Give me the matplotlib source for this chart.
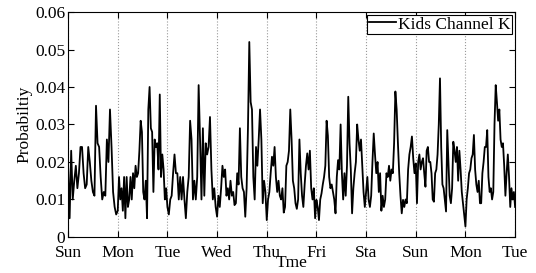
import numpy as np
import matplotlib
matplotlib.use('Agg')
import matplotlib.pyplot as plt

plt.rcParams['font.family'] = ['Liberation Serif', 'DejaVu Serif']

# day labels on the x axis (one per day boundary)
DAY_LABELS = ['Sun', 'Mon', 'Tue', 'Wed', 'Thu', 'Fri', 'Sta', 'Sun', 'Mon', 'Tue']

# probability values, one list per day
sun1 = [0.019, 0.005, 0.023, 0.010, 0.015, 0.019, 0.013, 0.017, 0.024, 0.024, 0.017, 0.013, 0.014, 0.024,
        0.020, 0.015, 0.012, 0.011, 0.035, 0.025, 0.024, 0.016, 0.010, 0.012, 0.011, 0.026, 0.020, 0.034,
        0.024, 0.012, 0.008, 0.006]
mon1 = [0.007, 0.016, 0.010, 0.013, 0.007, 0.016, 0.005, 0.016, 0.008, 0.010, 0.016, 0.010, 0.017, 0.013,
        0.019, 0.016, 0.017, 0.023, 0.031, 0.028, 0.012, 0.010, 0.015, 0.005, 0.034, 0.040, 0.029, 0.028,
        0.012, 0.026, 0.024, 0.025, 0.018, 0.038, 0.016, 0.022, 0.018, 0.010, 0.013]
tue1 = [0.008, 0.006, 0.010, 0.011, 0.017, 0.022, 0.017, 0.017, 0.010, 0.016, 0.010, 0.016, 0.010, 0.005,
        0.012, 0.016, 0.031, 0.026, 0.010, 0.015, 0.010, 0.016, 0.0405, 0.026, 0.010, 0.029, 0.011, 0.025,
        0.022, 0.024, 0.032, 0.018, 0.010, 0.013, 0.008]
wed1 = [0.0054, 0.011, 0.008, 0.013, 0.019, 0.016, 0.018, 0.011, 0.013, 0.010, 0.015, 0.011, 0.012, 0.0085,
        0.009, 0.017, 0.014, 0.029, 0.016, 0.013, 0.012, 0.0054, 0.013, 0.029, 0.052, 0.036, 0.034, 0.016,
        0.010, 0.024, 0.019, 0.026, 0.034, 0.026, 0.009, 0.015, 0.012]
thu1 = [0.0045, 0.010, 0.012, 0.017, 0.0214, 0.019, 0.024, 0.016, 0.012, 0.015, 0.011, 0.010, 0.013, 0.0065,
        0.008, 0.019, 0.020, 0.023, 0.034, 0.026, 0.015, 0.013, 0.009, 0.0075, 0.010, 0.026, 0.017, 0.011,
        0.008, 0.014, 0.019, 0.0223, 0.018, 0.023, 0.013, 0.010, 0.013, 0.005]
fri1 = [0.0099, 0.008, 0.0045, 0.010, 0.0116, 0.014, 0.016, 0.019, 0.031, 0.027, 0.016, 0.013, 0.014, 0.012,
        0.010, 0.0063, 0.016, 0.0205, 0.018, 0.030, 0.017, 0.010, 0.017, 0.011, 0.019, 0.0374, 0.025, 0.018,
        0.0063, 0.013, 0.017, 0.020, 0.030, 0.026, 0.023, 0.026, 0.019, 0.012, 0.008]
sat1 = [0.012, 0.016, 0.0099, 0.008, 0.011, 0.020, 0.0276, 0.022, 0.017, 0.020, 0.012, 0.017, 0.007, 0.011,
        0.008, 0.010, 0.017, 0.016, 0.019, 0.015, 0.018, 0.017, 0.025, 0.0388, 0.034, 0.025, 0.017, 0.011,
        0.0063, 0.0099, 0.008, 0.010, 0.009, 0.018, 0.022, 0.024, 0.0268, 0.021, 0.017]
sun2 = [0.0196, 0.009, 0.020, 0.022, 0.018, 0.020, 0.021, 0.017, 0.0134, 0.023, 0.024, 0.020, 0.020, 0.017,
        0.010, 0.0094, 0.017, 0.018, 0.022, 0.030, 0.0423, 0.024, 0.014, 0.013, 0.010, 0.0068, 0.0285, 0.020,
        0.011, 0.009, 0.013, 0.0254, 0.023, 0.020, 0.024, 0.015, 0.023, 0.018, 0.012, 0.009, 0.006]
mon2 = [0.0028, 0.010, 0.013, 0.017, 0.018, 0.021, 0.022, 0.0272, 0.018, 0.014, 0.012, 0.015, 0.009, 0.009,
        0.017, 0.020, 0.024, 0.024, 0.0285, 0.016, 0.012, 0.013, 0.010, 0.012, 0.030, 0.0405, 0.036, 0.031,
        0.034, 0.026, 0.024, 0.025, 0.019, 0.011, 0.017, 0.022, 0.016, 0.008, 0.013, 0.010, 0.012]
last_value = 0.008  # value at the final Tue boundary

days = [sun1, mon1, tue1, wed1, thu1, fri1, sat1, sun2, mon2]


def build_series(day_lists, end_value):
    t, p = [], []
    for d, vals in enumerate(day_lists):
        t.extend(d + np.linspace(0, 1, len(vals), endpoint=False))
        p.extend(vals)
    t.append(len(day_lists))
    p.append(end_value)
    return np.array(t), np.array(p)


def main():
    t, p = build_series(days, last_value)

    fig = plt.figure(figsize=(5.36, 2.73), dpi=100)
    ax = fig.add_axes([0.127, 0.132, 0.834, 0.824])
    ax.plot(t, p, color='black', lw=1.3, label='Kids Channel K')

    ax.set_xlim(0, len(days))
    ax.set_ylim(0, 0.06)
    ax.set_xticks(range(len(DAY_LABELS)))
    ax.set_xticklabels(DAY_LABELS)
    ax.set_yticks([0, 0.01, 0.02, 0.03, 0.04, 0.05, 0.06])
    ax.set_yticklabels(['0', '0.01', '0.02', '0.03', '0.04', '0.05', '0.06'])
    ax.tick_params(direction='in', top=True, right=True, labelsize=12.5, length=4)
    ax.tick_params(axis='x', pad=5.5)
    ax.tick_params(axis='y', pad=2)
    ax.xaxis.grid(True, linestyle=':', color='#999999', lw=0.8)

    ax.set_xlabel('Tme', fontsize=12.5, labelpad=-4)
    ax.set_ylabel('Probabiltiy', fontsize=12.5, labelpad=2)

    leg = ax.legend(loc='upper right', fontsize=12.5, fancybox=False, framealpha=1,
                    edgecolor='black', borderaxespad=0.15, handlelength=1.6,
                    handletextpad=0.1, borderpad=0.1)
    leg.get_frame().set_linewidth(0.8)

    fig.savefig('out.png', dpi=100)


if __name__ == '__main__':
    main()
